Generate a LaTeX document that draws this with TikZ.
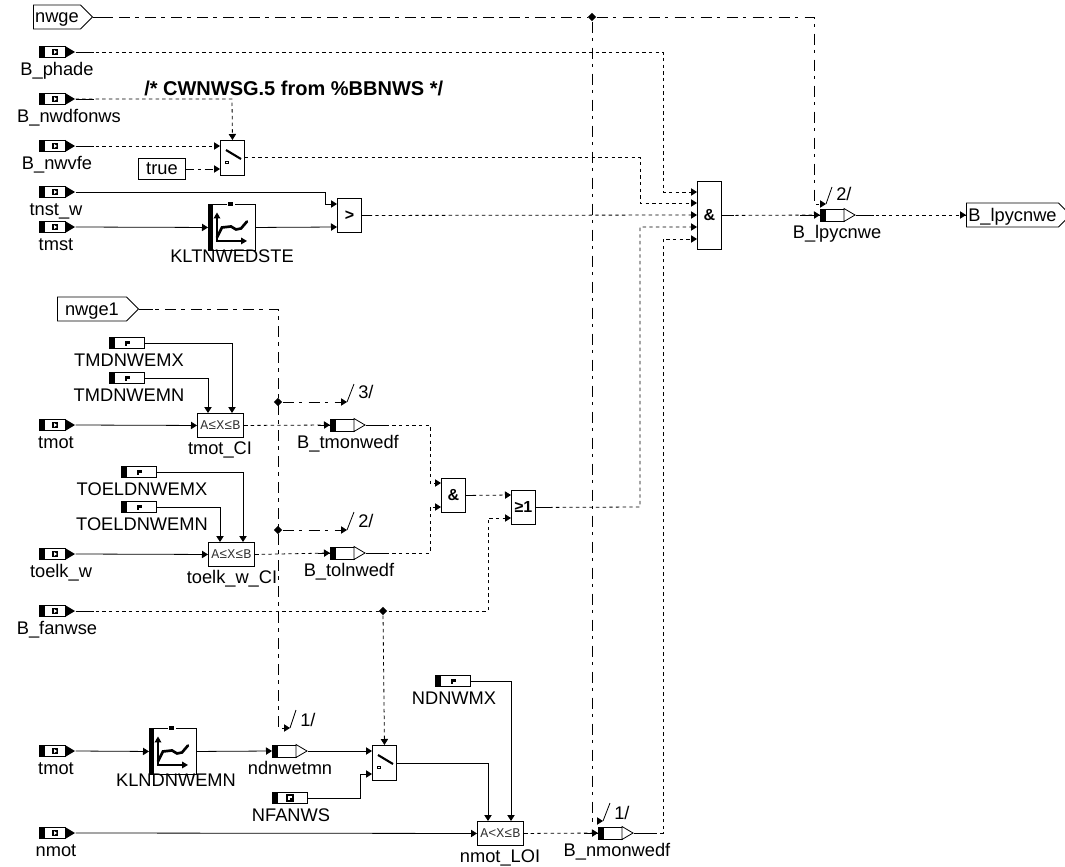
\documentclass[tikz,border=0pt]{standalone}
\usepackage{fontspec}
\setmainfont{Liberation Sans}
\newfontfamily\rangefont{Liberation Mono}
\usetikzlibrary{arrows.meta,positioning,calc,shapes.geometric,shapes.symbols}
\tikzset{
  lbl/.style={font=\fontsize{13.7pt}{15pt}\selectfont,anchor=base,inner sep=0pt},
  cmt/.style={font=\fontsize{15pt}{16pt}\selectfont\bfseries,anchor=base west,inner sep=0pt},
  wire/.style={line width=0.6pt},
  arr/.style={wire,-{Triangle[length=4.5pt,width=5.5pt]}},
  boolw/.style={arr,dash pattern=on 2.6pt off 2.4pt},
  ctlw/.style={arr,dash pattern=on 8.5pt off 3.7pt on 2.6pt off 4.7pt},
  portbox/.style={anchor=west,inner sep=0pt,minimum height=9pt},
  gate/.style={draw,line width=0.7pt,anchor=north west,inner sep=0pt,minimum width=18pt,minimum height=25.5pt,font=\fontsize{12pt}{12pt}\selectfont\bfseries},
  rangebox/.style={gate,minimum width=34.5pt,minimum height=18pt,font=\fontsize{10pt}{10pt}\rangefont,text=black!80},
  sigbox/.style={draw,line width=0.7pt,signal,signal to=east,signal from=nowhere,signal pointer angle=90,anchor=west,inner sep=0pt,minimum height=18pt,text height=10pt,text depth=1pt,font=\fontsize{13.7pt}{15pt}\selectfont},
  constbox/.style={draw,line width=0.7pt,anchor=west,inner sep=0pt,minimum width=35.25pt,minimum height=15.75pt,text height=10pt,text depth=1pt,font=\fontsize{13.7pt}{15pt}\selectfont},
  junc/.style={diamond,fill=black,inner sep=0pt,minimum size=6.5pt},
}
% px grid: x,y are reference pixels, y runs down
\newcommand{\inport}[5]{% name,x,y,label,label x
  \node[portbox,minimum width=27pt] (#1) at (#2,#3) {};
  \begin{scope}[shift={(#1.west)}]
    \fill (0,-6) rectangle (5,6);
    \draw[wire,fill=white] (5,-5.5) rectangle (26,5.5);
    \fill (26,-6) -- (36,0) -- (26,6) -- cycle;
    \fill (13,-3) rectangle (19,3);
    \fill[white] (15,-2) -- (18,0) -- (15,2) -- cycle;
  \end{scope}
  \node[lbl] (#1lbl) at ({#5},{#3+23.5}) {#4};
}
\newcommand{\parblock}[5]{% name,x,y,label,label x
  \node[portbox,minimum width=26.25pt] (#1) at (#2,#3) {};
  \begin{scope}[shift={(#1.west)}]
    \fill (0,-6) rectangle (5,6);
    \draw[wire,fill=white] (5,-5.5) rectangle (35,5.5);
    \fill (16,-2.5) rectangle (21,1);
    \fill (16,1) rectangle (18,3);
  \end{scope}
  \node[lbl] (#1lbl) at ({#5},{#3+23.5}) {#4};
}
\newcommand{\msgblock}[5]{% name,x,y,label,label x
  \node[portbox,minimum width=26.25pt] (#1) at (#2,#3) {};
  \begin{scope}[shift={(#1.west)}]
    \fill (0,-6.5) rectangle (5,6.5);
    \draw[wire,fill=white] (5,-6) rectangle (24,6);
    \draw[wire,fill=white] (24,-6.5) -- (35,0) -- (24,6.5) -- cycle;
  \end{scope}
  \node[lbl] (#1lbl) at ({#5},{#3+23.5}) {#4};
}
\newcommand{\curveblock}[5]{% name,x,y,label,label x
  \node[gate,minimum width=35.25pt,minimum height=34.5pt] (#1) at (#2,#3) {};
  \begin{scope}[shift={(#1.west)}]
    \fill (0,-23) rectangle (5,23);
    \fill[white] (19,-24) rectangle (27,-22);
    \fill (20,-25.5) rectangle (25,-21);
    \draw[line width=0.9pt,-{Triangle[length=4.5pt,width=5pt]}] (9,14) -- (9,-15);
    \draw[line width=0.9pt,-{Triangle[length=4.5pt,width=5pt]}] (8,13.5) -- (39,13.5);
    \draw[line width=2pt,line cap=round] (9,10) -- (14,0) -- (23,-1) -- (28,2) -- (33,1) -- (39,-6);
  \end{scope}
  \node[lbl] (#1lbl) at ({#5},{#3+58}) {#4};
}
\newcommand{\swblock}[3]{% name,x,y
  \node[gate,minimum height=26.25pt] (#1) at (#2,#3) {};
  \begin{scope}[shift={(#1.north west)}]
    \draw[line width=1.6pt] (6,10) -- (21,19);
    \draw[line width=0.6pt] (5.5,21) rectangle (8,23.5);
  \end{scope}
}
\begin{document}
\begin{tikzpicture}[x=0.75pt,y=-0.75pt]
  \useasboundingbox (0,0) rectangle (1065,867);
  \inport{phade}{39}{52}{B\_phade}{57}
  \inport{nwdfonws}{39}{99}{B\_nwdfonws}{69}
  \inport{nwvfe}{39}{146}{B\_nwvfe}{57}
  \inport{tnstw}{39}{192}{tnst\_w}{56}
  \inport{tmst}{39}{227}{tmst}{56}
  \inport{tmota}{39}{425}{tmot}{56}
  \inport{toelkw}{39}{554}{toelk\_w}{61}
  \inport{fanwse}{39}{611}{B\_fanwse}{57}
  \inport{tmotb}{39}{751}{tmot}{56}
  \inport{nmot}{39}{833}{nmot}{56}
  \node[sigbox,minimum width=44.25pt] (nwge) at (33,17) {nwge};
  \node[sigbox,minimum width=60.75pt] (nwgeone) at (57,309) {nwge1};
  \node[sigbox,minimum width=78pt] (lpyout) at (966,215) {B\_lpycnwe};
  \node[constbox] (true) at (138,169) {true};
  \node[cmt] (cwn) at (144,96) {/* CWNWSG.5 from \%BBNWS */};
  % gates
  \swblock{swa}{220}{140}
  \swblock{swb}{372}{745}
  \node[gate] (gt) at (337,198) {>};
  \node[gate,minimum height=51pt] (anda) at (697,181) {\&};
  \node[gate] (andb) at (441,478) {\&};
  \node[gate] (orb) at (511,490) {≥1};
  \node[rangebox] (tmotci) at (197,413) {A≤X≤B};
  \node[rangebox] (toelkci) at (208,542) {A≤X≤B};
  \node[rangebox] (nmotloi) at (477,821) {A<X≤B};
  \node[lbl] (tmotcilbl) at (220,454) {tmot\_CI};
  \node[lbl] (toelkcilbl) at (232,583) {toelk\_w\_CI};
  \node[lbl] (nmotloilbl) at (500,862) {nmot\_LOI};
  \curveblock{klt}{208}{204}{KLTNWEDSTE}{232}
  \curveblock{kln}{149}{728}{KLNDNWEMN}{176}
  \parblock{tmdmx}{109}{343}{TMDNWEMX}{129}
  \parblock{tmdmn}{109}{378}{TMDNWEMN}{129}
  \parblock{toemx}{121}{472}{TOELDNWEMX}{142}
  \parblock{toemn}{121}{507}{TOELDNWEMN}{142}
  \parblock{ndmx}{435}{681}{NDNWMX}{454}
  \parblock{nfan}{272}{798}{NFANWS}{291}
  \msgblock{lpy}{820}{215}{B\_lpycnwe}{837}
  \msgblock{tmon}{330}{425}{B\_tmonwedf}{348}
  \msgblock{toln}{330}{553}{B\_tolnwedf}{349}
  \msgblock{ndn}{272}{751}{ndnwetmn}{290}
  \msgblock{nmon}{598}{833}{B\_nmonwedf}{617}
  \fill[white] (286,794.5) rectangle (295,801.5);
  \draw[line width=0.9pt] (287,795) rectangle (293,801);
  \fill (290,798) rectangle (293,801);
  % junctions
  \node[junc] (ja) at (592,17) {};
  \node[junc] (jb) at (278,402) {};
  \node[junc] (jc) at (278,530) {};
  \node[junc] (jd) at (383,611) {};
  \coordinate (mka) at (826,204);
  \coordinate (mkb) at (603,821);
  \coordinate (mkc) at (347,402);
  \coordinate (mkd) at (347,530);
  \coordinate (mke) at (290,728);
  % input pins
  \coordinate (anda1) at (697,192);
  \coordinate (anda2) at (697,203);
  \coordinate (anda3) at (697,215);
  \coordinate (anda4) at (697,227);
  \coordinate (anda5) at (697,239);
  % control lines
  \draw[ctlw,-] (nwge.east) -- (ja);
  \draw[ctlw] (ja) -- (814,17) -- (814,204) -- (mka);
  \draw[ctlw] (ja) -- (592,821) -- (mkb);
  \draw[ctlw] (nwgeone.east) -- (278,309) -- (278,728) -- (mke);
  \draw[ctlw] (jb) -- (mkc);
  \draw[ctlw] (jc) -- (mkd);
  \draw[ctlw,dash pattern=on 6pt off 3pt on 2pt off 3pt] (true.east) -- (swa.west|-true.east);
  % boolean lines
  \draw[boolw] (phade.east) -- (663,52) -- (663,192) -- (anda1);
  \draw[boolw] (nwdfonws.east) -- (232,99) -- (swa.north);
  \draw[boolw] (nwvfe.east) -- (swa.west|-nwvfe.east);
  \draw[boolw] (swa.east|-0,157) -- (640,157) -- (640,203) -- (anda2);
  \draw[boolw] (gt.east) -- (anda3);
  \draw[boolw] (orb.east) -- (640,507) -- (640,227) -- (anda4);
  \draw[boolw] (nmon.east) -- (663,833) -- (663,239) -- (anda5);
  \draw[boolw] (anda.east) -- (lpy.west);
  \draw[boolw] (lpy.east) -- (lpyout.west);
  \draw[boolw] (tmotci.east) -- (tmon.west);
  \draw[boolw] (toelkci.east) -- (toln.west);
  \draw[boolw] (tmon.east) -- (430,425) -- (430,483) -- (441,483);
  \draw[boolw] (toln.east) -- (430,553) -- (430,507) -- (441,507);
  \draw[boolw] (andb.east) -- (511,495);
  \draw[boolw] (fanwse.east) -- (488,611) -- (488,518) -- (511,518);
  \draw[boolw] (jd) -- (swb.north);
  \draw[boolw] (nmotloi.east) -- (nmon.west);
  % solid stubs
  \foreach \n in {phade,nwdfonws,nwvfe,fanwse}{
    \draw[wire] (\n.east) -- ++(18,0);
  }
  \foreach \n/\l in {nwge/20,nwgeone/14,gt/8,anda/12,lpy/18,tmon/20,toln/20,nmon/20,orb/14,andb/8,tmotci/4,toelkci/4,nmotloi/4}{
    \draw[wire] (\n.east|-\n.center) -- ++(\l,0);
  }
  \foreach \p/\l in {lpy/20,lpyout/4,tmon/12,toln/12,nmon/14}{
    \draw[wire] (\p.west) -- ++(-\l,0);
  }
  % solid lines
  \draw[arr] (tnstw.east) -- (325,192) -- (325,204) -- (337,204);
  \draw[arr] (tmst.east) -- (klt.west);
  \draw[arr] (klt.east) -- (337,227);
  \draw[arr] (tmota.east) -- (tmotci.west);
  \draw[arr] (toelkw.east) -- (toelkci.west);
  \draw[arr] (tmotb.east) -- (kln.west);
  \draw[arr] (kln.east) -- (ndn.west);
  \draw[arr] (ndn.east) -- (swb.west|-ndn.east);
  \draw[arr] (nfan.east) -- (360,798) -- (360,774) -- (372,774);
  \draw[arr] (nmot.east) -- (nmotloi.west);
  \draw[arr] (tmdmx.east) -- (232,343) -- (232,413);
  \draw[arr] (tmdmn.east) -- (208,378) -- (208,413);
  \draw[arr] (toemx.east) -- (243,472) -- (243,542);
  \draw[arr] (toemn.east) -- (220,507) -- (220,542);
  \draw[arr] (ndmx.east) -- (511,681) -- (511,821);
  \draw[arr] (swb.east|-0,763) -- (488,763) -- (488,821);
  % bus markers
  \draw[wire] (mka) -- ++(6,-17);
  \draw[wire] (mkb) -- ++(7,-18);
  \draw[wire] (mkc) -- ++(7,-18);
  \draw[wire] (mkd) -- ++(7,-18);
  \draw[wire] (mke) -- ++(6,-18);
  \node[lbl,anchor=base west] (mkal) at (836,200) {2/};
  \node[lbl,anchor=base west] (mkbl) at (614,819) {1/};
  \node[lbl,anchor=base west] (mkcl) at (358,398) {3/};
  \node[lbl,anchor=base west] (mkdl) at (358,527) {2/};
  \node[lbl,anchor=base west] (mkel) at (300,726) {1/};
\end{tikzpicture}
\end{document}
